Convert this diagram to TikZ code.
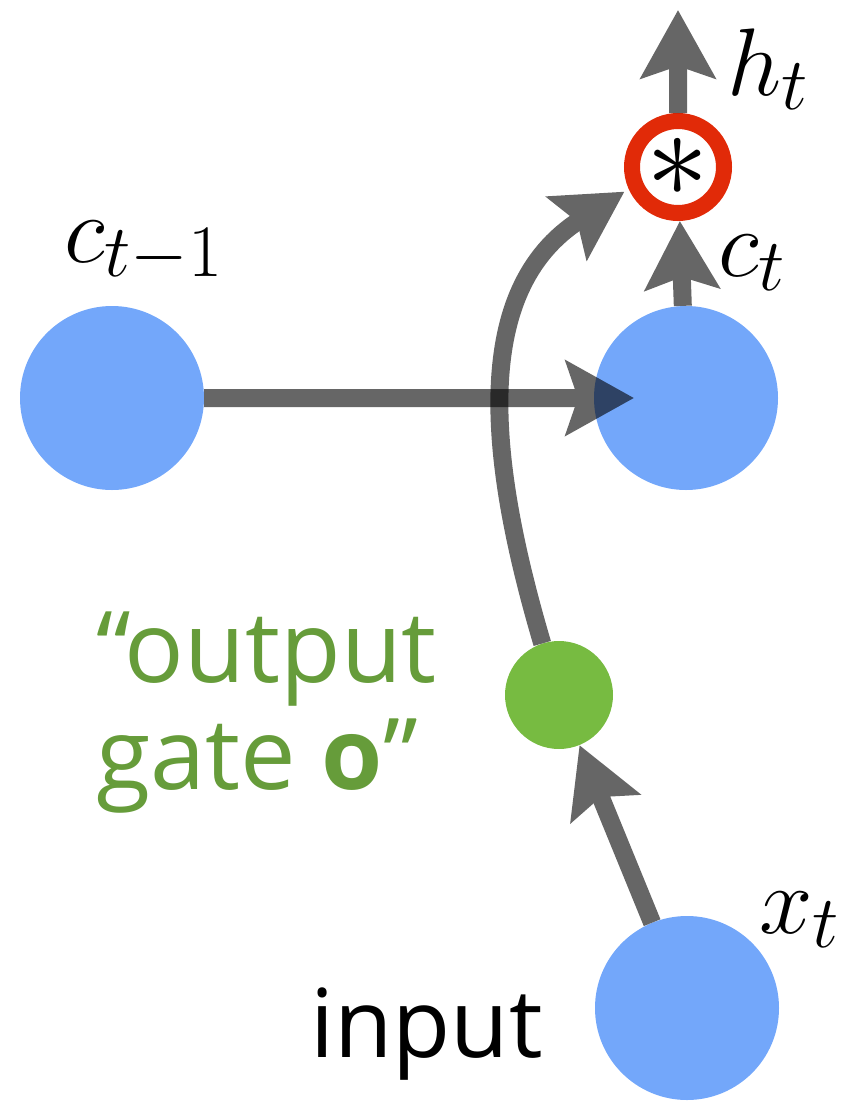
\RequirePackage{fix-cm}
\documentclass[tikz,border=0pt]{standalone}
\usepackage{fontspec}
\newfontfamily\gillfont{Open Sans}
\usetikzlibrary{arrows.meta}
\definecolor{cellblue}{RGB}{115,167,250}
\definecolor{gategreen}{RGB}{119,187,65}
\definecolor{textgreen}{RGB}{102,156,58}
\definecolor{multred}{RGB}{225,42,8}
\DeclareMathSizes{96}{96}{74}{55}

\begin{document}
\begin{tikzpicture}[x=1pt, y=-1pt, >={Stealth[length=68pt, width=74pt, inset=12pt]},
	every node/.style={inner sep=0pt},
	cell/.style={circle, fill=cellblue, minimum size=184pt},
	pipe/.style={->, line width=18pt, black},
	glass/.style={transparency group, opacity=.6},
	mathlbl/.style={font=\fontsize{96}{100}\selectfont, anchor=base west},
	wordlbl/.style={font=\gillfont\fontsize{95}{107}\selectfont}]
	\useasboundingbox (0,0) rectangle (842,1103);
	% cells and gate
	\node[cell] (cprev) at (112,398) {};
	\node[cell] (cnow) at (686,398) {};
	\node[cell] (xin) at (687,1008) {};
	\node[circle, fill=gategreen, minimum size=108pt] (gate) at (559,695) {};
	\node[circle, draw=multred, fill=white, line width=16pt, minimum size=92pt] (mult) at (678,167) {\fontsize{125}{125}\selectfont$\ast$};
	\coordinate (hend) at (678,10);
	% labels
	\node[mathlbl] (lprev) at (64,262) {$c_{t-1}$};
	\node[mathlbl] (lnow) at (718,276) {$c_t$};
	\node[mathlbl] (lh) at (727,95) {$h_t$};
	\node[mathlbl] (lx) at (759,933) {$x_t$};
	\node[wordlbl, anchor=base west] (linput) at (310,1057) {input};
	\node[wordlbl, font=\gillfont\fontsize{99}{107}\selectfont, text=textgreen, align=left, anchor=north west] (lgate) at (96,612) {“output\\gate \textbf{o}”};
	% arrows
	\scoped[glass] \draw[pipe] (cprev) -- ([xshift=-52pt]cnow.center);
	\scoped[glass] \draw[pipe] (cnow) -- (mult);
	\scoped[glass] \draw[pipe] (mult) -- (hend);
	\scoped[glass] \draw[pipe, shorten >=5pt] (gate.108) .. controls (488,460) and (470,290) .. (mult.204);
	\scoped[glass] \draw[pipe] (xin) -- (gate);
\end{tikzpicture}
\end{document}
